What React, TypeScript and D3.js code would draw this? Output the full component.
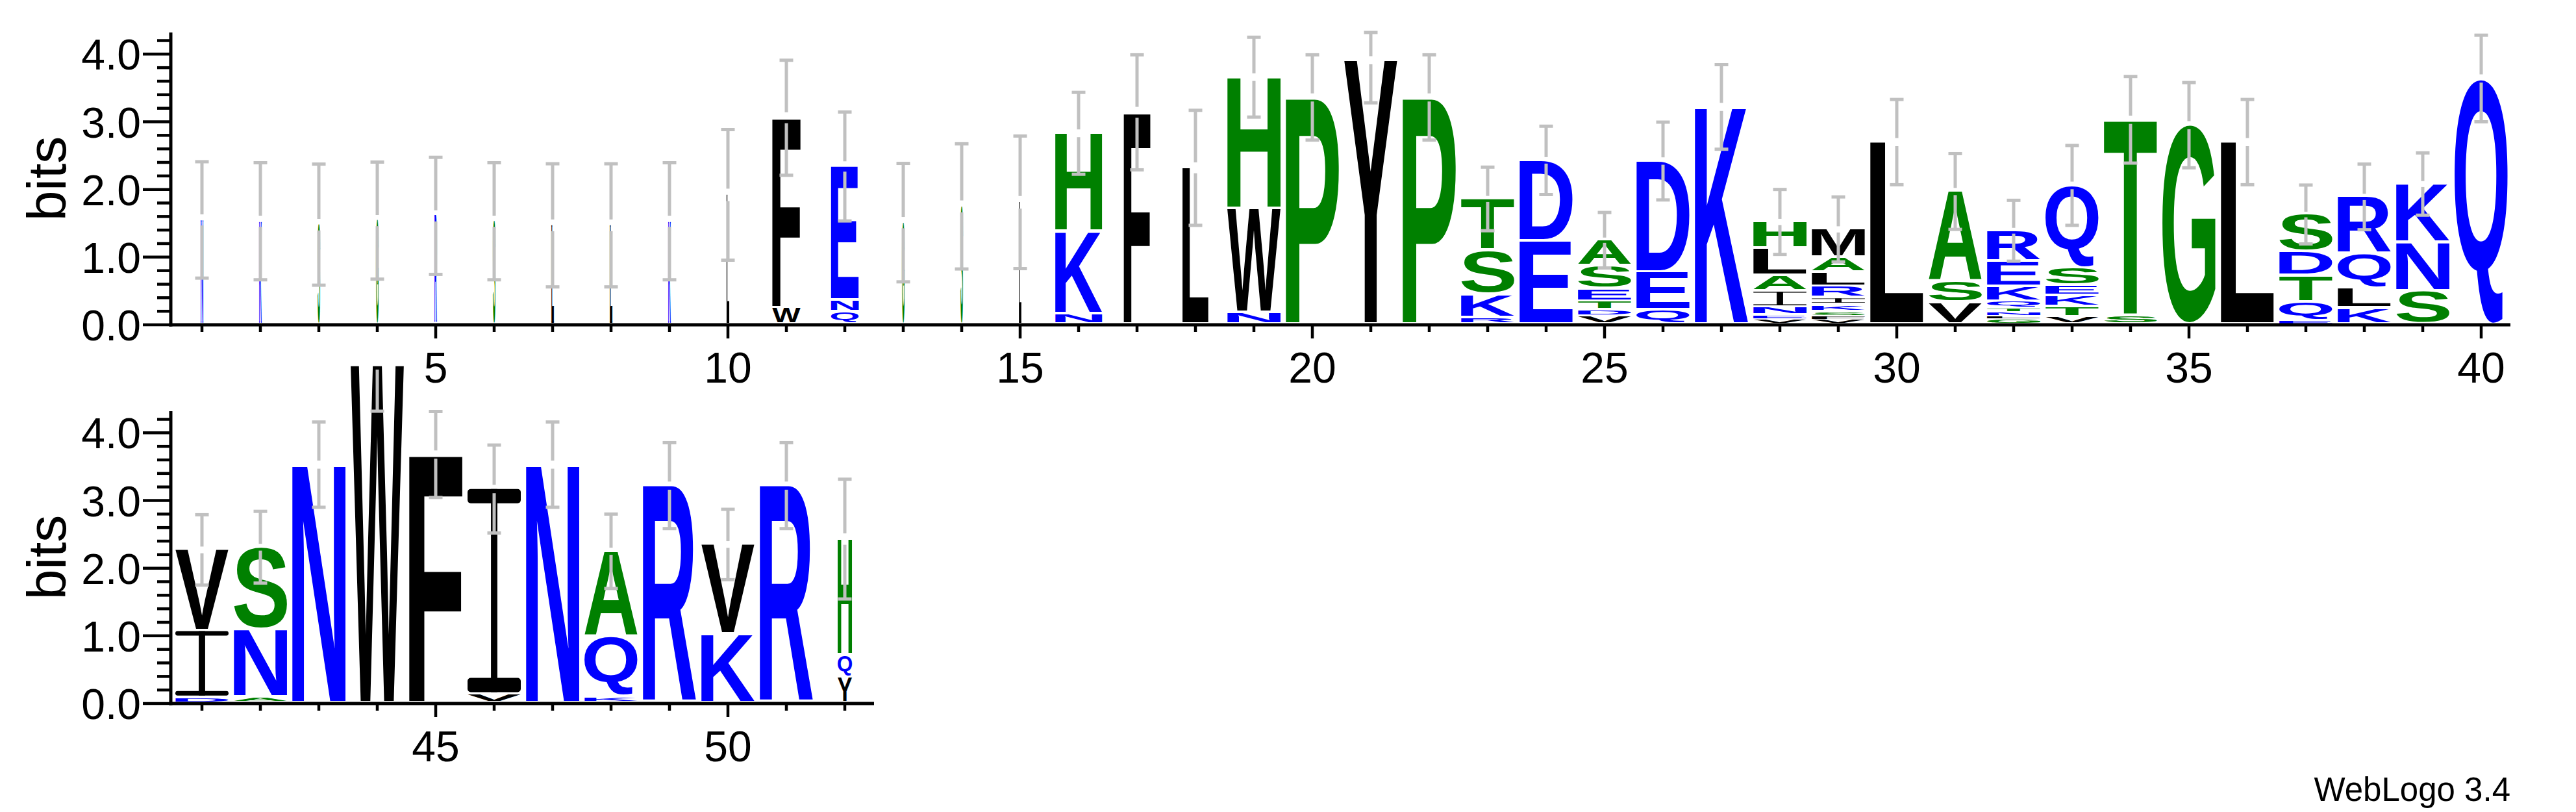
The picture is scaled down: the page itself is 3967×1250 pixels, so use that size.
import React, { useMemo } from "react";
import * as d3 from "d3";

// ---------------- data ----------------
const positions = [
  1, 2, 3, 4, 5, 6, 7, 8, 9, 10, 11, 12, 13, 14, 15, 16, 17, 18, 19, 20,
  21, 22, 23, 24, 25, 26, 27, 28, 29, 30, 31, 32, 33, 34, 35, 36, 37, 38, 39, 40,
  41, 42, 43, 44, 45, 46, 47, 48, 49, 50, 51, 52,
];

// letters of each stack, bottom to top
const stackLetters = [
  "N", "K", "S", "G", "R", "S", "L", "L", "K", "L",
  "WF", "QNE", "G", "S", "L", "NKH", "F", "L", "NWH", "P",
  "Y", "P", "RKST", "ED", "VDTESA", "QED", "K", "VENIALH", "VFSKIRLAM", "L",
  "VSA", "GLNTQKER", "VTKESQ", "ST", "G", "L", "EQTDS", "KLQR", "SNK", "Q",
  "DIV", "ANS", "N", "W", "F", "VI", "N", "KQA", "R", "KV", "R", "YQH",
];

// heights in bits, bottom to top
const stackHeights = [
  [1.55], [1.53], [1.48], [1.54], [1.61], [1.53], [1.47], [1.47], [1.53], [1.92],
  [0.24, 2.82], [0.185, 0.17, 1.985], [1.51], [1.75], [1.81], [0.15, 1.22, 1.46], [3.14], [2.32], [0.17, 1.54, 1.95], [3.36],
  [3.91], [3.36], [0.1, 0.34, 0.65, 0.77], [1.23, 1.2], [0.12, 0.09, 0.13, 0.18, 0.34, 0.39], [0.21, 0.56, 1.65], [3.22],
  [0.08, 0.05, 0.12, 0.24, 0.23, 0.4, 0.4], [0.07, 0.05, 0.065, 0.105, 0.1, 0.17, 0.21, 0.22, 0.42], [2.7],
  [0.32, 0.31, 1.34], [0.08, 0.04, 0.06, 0.05, 0.11, 0.22, 0.37, 0.46], [0.11, 0.15, 0.16, 0.15, 0.26, 1.23], [0.13, 2.9], [2.95], [2.7],
  [0.06, 0.27, 0.39, 0.36, 0.55], [0.24, 0.29, 0.51, 0.85], [0.49, 0.72, 0.87], [3.64],
  [0.08, 0.99, 1.2], [0.09, 1.0, 1.22], [3.53], [5.0], [3.68], [0.13, 3.04], [3.53], [0.09, 0.89, 1.27], [3.22], [1.02, 1.33], [3.22], [0.38, 0.33, 1.72],
];

// fraction of full stack width (non-gap fraction)
const stackWidths = [
  0.045, 0.045, 0.045, 0.045, 0.045, 0.045, 0.045, 0.045, 0.045, 0.05,
  0.53, 0.52, 0.045, 0.045, 0.045, 0.88, 0.5, 0.49, 1, 1,
  1, 1, 1, 1, 1, 1, 1, 1, 1, 1,
  1, 1, 1, 1, 1, 1, 1, 1, 1, 1,
  1, 1, 1, 1, 1, 1, 1, 1, 1, 1, 1, 0.27,
];

// error bar half length (bits)
const errorHalf = [
  0.86, 0.865, 0.895, 0.865, 0.865, 0.865, 0.91, 0.91, 0.865, 0.965,
  0.85, 0.805, 0.875, 0.925, 0.98, 0.605, 0.85, 0.85, 0.59, 0.63,
  0.63, 0.63, 0.47, 0.505, 0.41, 0.575, 0.625, 0.48, 0.48, 0.63,
  0.56, 0.45, 0.59, 0.64, 0.63, 0.63, 0.435, 0.485, 0.46, 0.64,
  0.52, 0.53, 0.63, 0.68, 0.635, 0.65, 0.63, 0.55, 0.635, 0.52, 0.635, 0.885,
];

const yMajorTicks = [0, 1, 2, 3, 4];
const yMajorLabels = ["0.0", "1.0", "2.0", "3.0", "4.0"];
const yMinorTicks = [0.2, 0.4, 0.6, 0.8, 1.2, 1.4, 1.6, 1.8, 2.2, 2.4, 2.6, 2.8, 3.2, 3.4, 3.6, 3.8, 4.2];
const xLabelsTop = [5, 10, 15, 20, 25, 30, 35, 40];
const xLabelsBottom = [45, 50];
const Y_MAX = 4.32;

// hydrophobicity colour scheme
const letterColor: Record<string, string> = {
  R: "#0000ff", K: "#0000ff", D: "#0000ff", E: "#0000ff", N: "#0000ff", Q: "#0000ff",
  S: "#008000", G: "#008000", H: "#008000", T: "#008000", A: "#008000", P: "#008000",
  Y: "#000000", V: "#000000", M: "#000000", C: "#000000", L: "#000000", F: "#000000", I: "#000000", W: "#000000",
};

const FONT = "'Liberation Sans', Arial, Helvetica, sans-serif";
const GLYPH_SIZE = 200;

type Metric = { l: number; r: number; a: number; d: number };

function useMetrics(): Record<string, Metric> {
  return useMemo(() => {
    const out: Record<string, Metric> = {};
    const c = document.createElement("canvas");
    const ctx = c.getContext("2d")!;
    ctx.font = `bold ${GLYPH_SIZE}px ${FONT}`;
    Object.keys(letterColor).forEach((ch) => {
      const m = ctx.measureText(ch);
      out[ch] = {
        l: m.actualBoundingBoxLeft,
        r: m.actualBoundingBoxRight,
        a: m.actualBoundingBoxAscent,
        d: m.actualBoundingBoxDescent,
      };
    });
    return out;
  }, []);
}

function Glyph({ ch, x, y, w, h, m }: { ch: string; x: number; y: number; w: number; h: number; m: Metric }) {
  const color = letterColor[ch] || "#000";
  if (ch === "I") {
    const t = Math.max(h * 0.07, 0.8);
    const sw = Math.max(w * 0.12, 0.8);
    const rx = Math.min(t / 2, w * 0.06);
    return (
      <g fill={color}>
        <rect x={x} y={y} width={w} height={t} rx={rx} />
        <rect x={x} y={y + h - t} width={w} height={t} rx={rx} />
        <rect x={x + (w - sw) / 2} y={y} width={sw} height={h} />
      </g>
    );
  }
  const gw = m.l + m.r;
  const gh = m.a + m.d;
  const sx = w / gw;
  const sy = h / gh;
  const narrow = w < 10;
  return (
    <text
      transform={`translate(${x},${y}) scale(${sx},${sy})`}
      x={m.l}
      y={m.a}
      fontSize={GLYPH_SIZE}
      fontWeight="bold"
      fontFamily={FONT}
      fill={color}
      stroke={narrow ? color : "none"}
      strokeWidth={narrow ? 1.3 : 0}
      vectorEffect={narrow ? "non-scaling-stroke" : undefined}
    >
      {ch}
    </text>
  );
}

const panels = [
  { first: 1, last: 40, left: 266, zeroY: 500, labels: xLabelsTop, clipTop: 0, id: "p1" },
  { first: 41, last: 52, left: 266, zeroY: 1083, labels: xLabelsBottom, clipTop: 560, id: "p2" },
];

const STEP = 90;
const BIT_PX = 450 / Y_MAX;

export default function App() {
  const metrics = useMetrics();

  return (
    <svg
      width={3967}
      height={1250}
      style={{ position: "absolute", left: 0, top: 0, background: "#fff" }}
      xmlns="http://www.w3.org/2000/svg"
    >
      <rect width={3967} height={1250} fill="#fff" />
      <defs>
        {panels.map((p) => (
          <clipPath id={`clip-${p.id}`} key={p.id}>
            <rect x={0} y={p.clipTop} width={3967} height={1250 - p.clipTop} />
          </clipPath>
        ))}
      </defs>
      {panels.map((p) => {
        const n = p.last - p.first + 1;
        const x = d3.scaleLinear().domain([p.first - 0.5, p.last + 0.5]).range([p.left, p.left + STEP * n]);
        const y = d3.scaleLinear().domain([0, Y_MAX]).range([p.zeroY, p.zeroY - 450]);
        const fullW = (x(2) - x(1)) * 0.911;
        const axisX = p.left - 3;
        const axisRight = x(p.last + 0.5);
        const pos = positions.filter((v) => v >= p.first && v <= p.last);
        return (
          <g key={p.id}>
            <g clipPath={`url(#clip-${p.id})`}>
              {pos.map((v) => {
                const i = v - 1;
                const letters = stackLetters[i].split("");
                const hs = stackHeights[i];
                const w = fullW * stackWidths[i];
                const cx = x(v);
                let acc = 0;
                return (
                  <g key={v}>
                    {letters.map((ch, k) => {
                      const b0 = acc;
                      const b1 = acc + hs[k];
                      acc = b1;
                      const yTop = y(b1);
                      const yBot = y(b0);
                      const boxH = yBot - yTop;
                      const gap = boxH > 10 ? 4 : boxH * 0.4;
                      const inkH = Math.max(boxH - gap, 1.5);
                      return (
                        <Glyph key={k} ch={ch} x={cx - w / 2} y={yTop} w={w} h={inkH} m={metrics[ch]} />
                      );
                    })}
                  </g>
                );
              })}
              {pos.map((v) => {
                const i = v - 1;
                const top = d3.sum(stackHeights[i]);
                const half = errorHalf[i];
                const cx = x(v);
                const yc = y(top);
                const upper = top < Y_MAX ? Math.min(top + half, Y_MAX) : top + half;
                const yU = y(upper);
                const yL = y(top - half);
                const g = 0.095 * half * BIT_PX;
                return (
                  <g key={`e${v}`} stroke="#c0c0c0" strokeWidth={5} fill="none">
                    <line x1={cx} x2={cx} y1={yU} y2={yc - g} />
                    <line x1={cx} x2={cx} y1={yc + g} y2={yL} />
                    <line x1={cx - 10.5} x2={cx + 10.5} y1={yU} y2={yU} />
                    <line x1={cx - 10.5} x2={cx + 10.5} y1={yL} y2={yL} />
                  </g>
                );
              })}
            </g>
            {/* axes */}
            <line x1={axisX} x2={axisX} y1={y(Y_MAX)} y2={y(0) + 2.5} stroke="#000" strokeWidth={5} />
            <line x1={axisX - 2.5} x2={axisRight} y1={y(0)} y2={y(0)} stroke="#000" strokeWidth={5} />
            {yMajorTicks.map((t, k) => (
              <g key={`ym${t}`}>
                <line x1={axisX - 43} x2={axisX} y1={y(t)} y2={y(t)} stroke="#000" strokeWidth={4.5} />
                <text
                  x={axisX - 46}
                  y={y(t) + 24}
                  textAnchor="end"
                  fontFamily={FONT}
                  fontSize={66}
                  fill="#000"
                >
                  {yMajorLabels[k]}
                </text>
              </g>
            ))}
            {yMinorTicks.map((t) => (
              <line key={`yn${t}`} x1={axisX - 21} x2={axisX} y1={y(t)} y2={y(t)} stroke="#000" strokeWidth={4.5} />
            ))}
            {pos.map((v) => {
              const major = p.labels.includes(v);
              return (
                <line
                  key={`xt${v}`}
                  x1={x(v)}
                  x2={x(v)}
                  y1={y(0)}
                  y2={y(0) + (major ? 21 : 11)}
                  stroke="#000"
                  strokeWidth={4.5}
                />
              );
            })}
            {p.labels.map((v) => (
              <text
                key={`xl${v}`}
                x={x(v)}
                y={y(0) + 89}
                textAnchor="middle"
                fontFamily={FONT}
                fontSize={66}
                fill="#000"
              >
                {v}
              </text>
            ))}
            <text
              transform={`translate(101, ${(y(0) + y(Y_MAX)) / 2}) rotate(-90)`}
              textAnchor="middle"
              fontFamily={FONT}
              fontSize={84}
              fill="#000"
            >
              bits
            </text>
          </g>
        );
      })}
      <text x={3866} y={1233} textAnchor="end" fontFamily={FONT} fontSize={51} fill="#000">
        WebLogo 3.4
      </text>
    </svg>
  );
}
